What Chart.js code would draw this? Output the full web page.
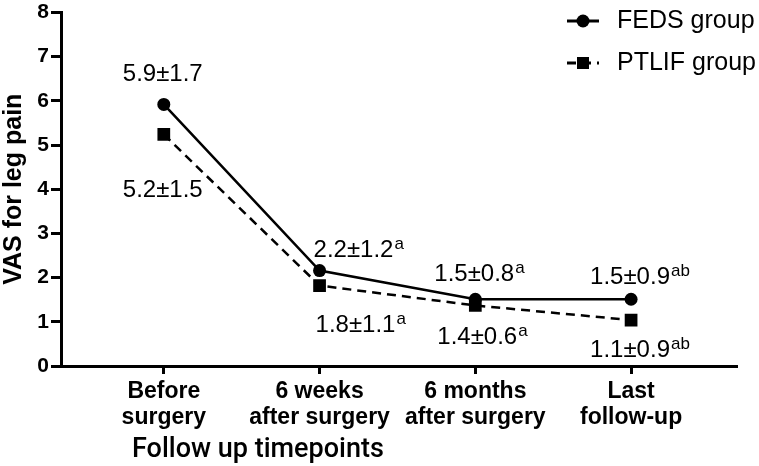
<!DOCTYPE html>
<html>
<head>
<meta charset="utf-8">
<script src="https://cdn.jsdelivr.net/npm/chart.js@4.4.1/dist/chart.umd.min.js"></script>
<style>
  html, body { margin: 0; padding: 0; background: #ffffff; }
  #wrap { width: 759px; height: 466px; position: relative; }
</style>
</head>
<body>
<div id="wrap"><canvas id="c" width="759" height="466"></canvas></div>
<script>
// ---- data ----
const categories = [["Before", "surgery"], ["6 weeks", "after surgery"], ["6 months", "after surgery"], ["Last", "follow-up"]];
const fedsValues = [5.92, 2.16, 1.51, 1.51];
const ptlifValues = [5.24, 1.82, 1.37, 1.04];
const fedsLabels = ["5.9±1.7", "2.2±1.2", "1.5±0.8", "1.5±0.9"];
const fedsSup = ["", "a", "a", "ab"];
const ptlifLabels = ["5.2±1.5", "1.8±1.1", "1.4±0.6", "1.1±0.9"];
const ptlifSup = ["", "a", "a", "ab"];
const seriesNames = ["FEDS group", "PTLIF group"];
const yTickValues = [0, 1, 2, 3, 4, 5, 6, 7, 8];
const yTitle = "VAS for leg pain";
const xTitle = "Follow up timepoints";

// ---- layout (label offsets relative to each point: [left dx, center dy]) ----
const labelOffsets = [
  [[-41, -32], [-6, -22], [-41, -27], [-41, -24]],
  [[-41, 54], [-4, 38], [-38, 30], [-41, 28]]
];

const mainFont = "24px 'Liberation Sans', Arial, sans-serif";
const supFont = "17px 'Liberation Sans', Arial, sans-serif";

const labelPlugin = {
  id: 'pointLabels',
  afterDatasetsDraw(chart) {
    const ctx = chart.ctx;
    const texts = [fedsLabels, ptlifLabels];
    const sups = [fedsSup, ptlifSup];
    ctx.save();
    ctx.fillStyle = '#000';
    ctx.textAlign = 'left';
    ctx.textBaseline = 'alphabetic';
    chart.data.datasets.forEach((ds, di) => {
      const meta = chart.getDatasetMeta(di);
      meta.data.forEach((pt, i) => {
        const off = labelOffsets[di][i];
        const left = pt.x + off[0];
        const base = pt.y + off[1] + 8.6;
        ctx.font = mainFont;
        ctx.fillText(texts[di][i], left, base);
        const w = ctx.measureText(texts[di][i]).width;
        if (sups[di][i]) {
          ctx.font = supFont;
          ctx.fillText(sups[di][i], left + w + 1, base - 8);
        }
      });
    });
    // x axis title
    ctx.font = "500 27px Roboto, 'Liberation Sans', sans-serif";
    ctx.textBaseline = 'middle';
    ctx.fillText(xTitle, 132, 450);
    // legend
    const legY = [21, 63];
    chart.data.datasets.forEach((ds, di) => {
      const y = legY[di];
      ctx.strokeStyle = '#000';
      ctx.lineWidth = 3;
      ctx.setLineDash(ds.borderDash || []);
      ctx.beginPath();
      ctx.moveTo(567, y);
      ctx.lineTo(599, y);
      ctx.stroke();
      ctx.setLineDash([]);
      ctx.fillStyle = '#000';
      if (ds.pointStyle === 'rect') {
        ctx.fillRect(583 - 6, y - 6, 12, 12);
      } else {
        ctx.beginPath();
        ctx.arc(583, y, 6.5, 0, Math.PI * 2);
        ctx.fill();
      }
      ctx.font = "25px 'Liberation Sans', Arial, sans-serif";
      ctx.textBaseline = 'middle';
      ctx.fillText(ds.label, 617, y);
    });
    ctx.restore();
  }
};

new Chart(document.getElementById('c'), {
  type: 'line',
  data: {
    datasets: [
      {
        label: seriesNames[0],
        data: fedsValues.map((v, i) => ({ x: i, y: v })),
        borderColor: '#000',
        backgroundColor: '#000',
        borderWidth: 2.5,
        pointStyle: 'circle',
        pointRadius: 6.5,
        pointBorderWidth: 0,
        pointBackgroundColor: '#000',
        tension: 0
      },
      {
        label: seriesNames[1],
        data: ptlifValues.map((v, i) => ({ x: i, y: v })),
        borderColor: '#000',
        backgroundColor: '#000',
        borderWidth: 2.5,
        borderDash: [9, 6],
        pointStyle: 'rect',
        pointRadius: 9,
        pointBorderWidth: 0,
        pointBackgroundColor: '#000',
        tension: 0
      }
    ]
  },
  options: {
    responsive: false,
    animation: false,
    layout: { padding: { left: 0, top: 10, right: 22, bottom: 0 } },
    plugins: { legend: { display: false }, tooltip: { enabled: false } },
    scales: {
      x: {
        type: 'linear',
        min: -0.66,
        max: 3.68,
        afterBuildTicks(scale) { scale.ticks = categories.map((c, i) => ({ value: i })); },
        afterFit(scale) { scale.height = 100; },
        ticks: {
          autoSkip: false,
          maxRotation: 0,
          includeBounds: false,
          padding: 5,
          color: '#000',
          font: { family: "'Liberation Sans', Arial, sans-serif", size: 23, weight: 'bold', lineHeight: 1.13 },
          callback: (v) => categories[v]
        },
        grid: { drawOnChartArea: false, drawTicks: true, tickLength: 8, tickWidth: 3, color: '#000' },
        border: { display: true, width: 3, color: '#000' }
      },
      y: {
        min: 0,
        max: 8,
        afterBuildTicks(scale) { scale.ticks = yTickValues.map(v => ({ value: v })); },
        afterFit(scale) { scale.width = 61; },
        ticks: {
          padding: 2,
          color: '#000',
          font: { family: "'Liberation Sans', Arial, sans-serif", size: 21, weight: 'bold', lineHeight: 1 }
        },
        grid: { drawOnChartArea: false, drawTicks: true, tickLength: 10, tickWidth: 3, color: '#000' },
        border: { display: true, width: 3, color: '#000' },
        title: {
          display: true,
          text: yTitle,
          color: '#000',
          padding: { top: 2, bottom: 0 },
          font: { family: "'Liberation Sans', Arial, sans-serif", size: 25, weight: 'bold', lineHeight: 1 }
        }
      }
    }
  },
  plugins: [labelPlugin]
});
</script>
</body>
</html>
